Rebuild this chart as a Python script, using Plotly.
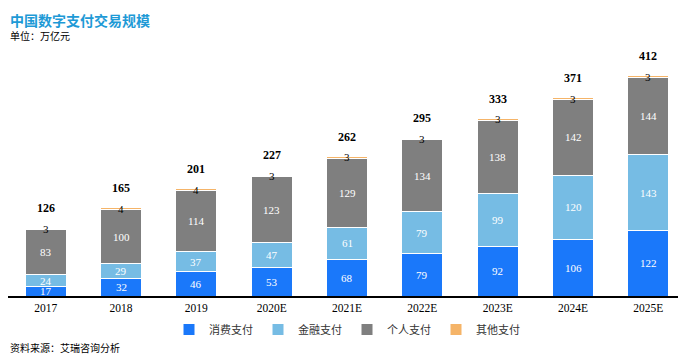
import plotly.graph_objects as go

categories = ["2017", "2018", "2019", "2020E", "2021E", "2022E", "2023E", "2024E", "2025E"]
consumption = [17, 32, 46, 53, 68, 79, 92, 106, 122]
financial = [24, 29, 37, 47, 61, 79, 99, 120, 143]
personal = [83, 100, 114, 123, 129, 134, 138, 142, 144]
other = [3, 4, 4, 3, 3, 3, 3, 3, 3]
totals = [126, 165, 201, 227, 262, 295, 333, 371, 412]
series_names = ["消费支付", "金融支付", "个人支付", "其他支付"]
colors = ["#1A78FA", "#76BCE4", "#7F7F7F", "#F5B468"]

SERIF = "Liberation Serif, Times New Roman, Noto Sans CJK SC, serif"
CJK = "Liberation Serif, Noto Sans CJK SC, serif"

# page has an 8px body margin; the figure is sized to fill the rest of the window
OFF = 8
W, H = 686 - OFF, 363 - OFF
ML, MR, MT, MB = 0, 0, 40 - OFF, 67
plot_h = H - MT - MB
plot_w = W - ML - MR


def py(ypix):
    return (H - MB - (ypix - OFF)) / plot_h


def px(xpix):
    return ((xpix - OFF) - ML) / plot_w


fig = go.Figure()
series = [consumption, financial, personal, other]
for name, vals, col in zip(series_names, series, colors):
    fig.add_trace(go.Bar(
        x=categories, y=vals, name=name,
        marker=dict(color=col, line=dict(color="white", width=1)),
        hoverinfo="skip",
    ))

annotations = []
for i, cat in enumerate(categories):
    base = 0
    for k in range(3):
        v = series[k][i]
        annotations.append(dict(
            x=i, y=base + v / 2, text=str(v), showarrow=False,
            font=dict(family=SERIF, size=11, color="white"),
            xref="x", yref="y", yanchor="middle",
        ))
        base += v
    annotations.append(dict(
        x=i, y=base + other[i] / 2, text=str(other[i]), showarrow=False,
        font=dict(family=SERIF, size=11, color="black"),
        xref="x", yref="y", yanchor="middle",
    ))
    annotations.append(dict(
        x=i, y=base + other[i], text="<b>" + str(totals[i]) + "</b>", showarrow=False,
        font=dict(family=SERIF, size=12, color="black"),
        xref="x", yref="y", yanchor="middle", yshift=20,
    ))

annotations.append(dict(text="<b>中国数字支付交易规模</b>", xref="paper", yref="paper",
                        x=px(8), xanchor="left", y=py(8), yanchor="top", showarrow=False,
                        font=dict(family="Noto Sans CJK SC", size=14, color="#1E9AD6")))
annotations.append(dict(text="单位：万亿元", xref="paper", yref="paper", x=px(8), xanchor="left",
                        y=py(36), yanchor="middle", showarrow=False,
                        font=dict(family=CJK, size=10, color="black")))
annotations.append(dict(text="资料来源：艾瑞咨询分析", xref="paper", yref="paper", x=px(8), xanchor="left",
                        y=py(348), yanchor="middle", showarrow=False,
                        font=dict(family=CJK, size=10, color="black")))

fig.update_layout(
    barmode="stack",
    bargap=0.456,
    width=W, height=H,
    margin=dict(l=ML, r=MR, t=MT, b=MB, pad=0),
    plot_bgcolor="white", paper_bgcolor="white",
    showlegend=True,
    legend=dict(orientation="h", x=px(347), xanchor="center", y=py(315), yanchor="top",
                font=dict(family=CJK, size=11, color="#333333"),
                itemwidth=30, traceorder="normal", itemclick=False),
    xaxis=dict(type="category", range=[-0.5, len(categories) - 0.5],
               showline=True, linecolor="black", linewidth=1.5, ticks="",
               tickfont=dict(family=SERIF, size=11.5, color="black"), fixedrange=True),
    yaxis=dict(visible=False, range=[0, 479], fixedrange=True),
    annotations=annotations,
)

fig.write_html("out.html")
